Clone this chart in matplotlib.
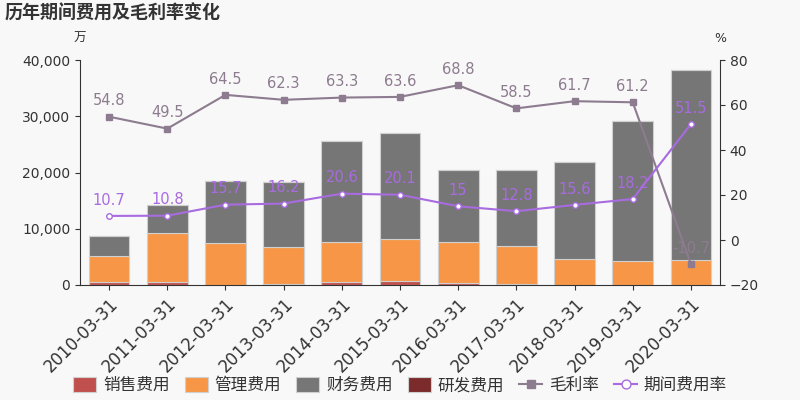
import numpy as np
import matplotlib.pyplot as plt
from matplotlib.ticker import FuncFormatter

plt.rcParams['font.family'] = ['DejaVu Sans', 'Noto Sans CJK SC']

# données
years = ['2010-03-31', '2011-03-31', '2012-03-31', '2013-03-31', '2014-03-31', '2015-03-31',
         '2016-03-31', '2017-03-31', '2018-03-31', '2019-03-31', '2020-03-31']
sales = [500, 600, 0, 100, 500, 700, 400, 200, 0, 0, 0]
admin = [4700, 8600, 7500, 6600, 7100, 7400, 7300, 6800, 4600, 4300, 4400]
finance = [3600, 5000, 11000, 11600, 18000, 18900, 12700, 13400, 17300, 24900, 33800]
rnd = [0, 0, 0, 0, 0, 0, 0, 0, 0, 0, 0]
gross_margin = [54.8, 49.5, 64.5, 62.3, 63.3, 63.6, 68.8, 58.5, 61.7, 61.2, -10.7]
period_rate = [10.7, 10.8, 15.7, 16.2, 20.6, 20.1, 15, 12.8, 15.6, 18.2, 51.5]

bg = '#f8f8f8'
fig = plt.figure(figsize=(8, 4), dpi=100, facecolor=bg)
ax = fig.add_axes([0.1, 0.2875, 0.8, 0.5625])
ax.set_facecolor(bg)
x = np.arange(len(years))
w = 0.7

bottom = np.zeros(len(years))
bars = []
for vals, col, name in [(sales, '#c0504d', '销售费用'), (admin, '#f79646', '管理费用'),
                        (finance, '#767676', '财务费用'), (rnd, '#7b2b2b', '研发费用')]:
    b = ax.bar(x, vals, w, bottom=bottom, color=col, edgecolor='#d0d0d0', linewidth=0.8,
               label=name, zorder=2)
    bars.append(b)
    bottom += np.array(vals)

ax.set_ylim(0, 40000)
ax.set_yticks([0, 10000, 20000, 30000, 40000])
ax.yaxis.set_major_formatter(FuncFormatter(lambda v, p: '{:,.0f}'.format(v)))
ax.set_xlim(-0.5, len(years) - 0.5)
ax.set_xticks(x)
ax.set_xticklabels(years, rotation=45, ha='right', rotation_mode='anchor', fontsize=12, color='#333333')
ax.tick_params(axis='y', labelsize=10, colors='#333333')
ax.tick_params(axis='x', colors='#333333')
for s in ['top', 'right']:
    ax.spines[s].set_visible(False)
ax.spines['left'].set_color('#333333')
ax.spines['bottom'].set_color('#333333')

ax2 = ax.twinx()
ax2.set_ylim(-20, 80)
ax2.set_yticks([-20, 0, 20, 40, 60, 80])
ax2.tick_params(axis='y', labelsize=10, colors='#333333')
for s in ['top', 'left', 'bottom']:
    ax2.spines[s].set_visible(False)
ax2.spines['right'].set_color('#333333')

gm_col = '#8d7b8f'
pr_col = '#a86be0'
l1, = ax2.plot(x, gross_margin, color=gm_col, marker='s', markersize=4, linewidth=1.5,
               label='毛利率', zorder=3)
l2, = ax2.plot(x, period_rate, color=pr_col, marker='o', markersize=4, markerfacecolor='white',
               markeredgecolor=pr_col, linewidth=1.5, label='期间费用率', zorder=3)
for i in range(len(years)):
    ax2.annotate(str(gross_margin[i]), (x[i], gross_margin[i]), xytext=(0, 6),
                 textcoords='offset points', ha='center', va='bottom', fontsize=10.5, color=gm_col)
    ax2.annotate('{:g}'.format(period_rate[i]), (x[i], period_rate[i]), xytext=(0, 6),
                 textcoords='offset points', ha='center', va='bottom', fontsize=10.5, color=pr_col)

fig.text(0.006, 0.965, '历年期间费用及毛利率变化', fontsize=13, fontweight='bold', color='#333333', va='center')
fig.text(0.1, 0.905, '万', fontsize=9, color='#333333', ha='center', va='center')
fig.text(0.9, 0.905, '%', fontsize=9, color='#333333', ha='center', va='center')

handles = bars + [l1, l2]
leg = fig.legend(handles=handles, labels=[h.get_label() for h in handles], loc='center',
                 bbox_to_anchor=(0.5, 0.037), ncol=6, frameon=False, fontsize=12,
                 handlelength=1.4, handleheight=1.0, handletextpad=0.4, columnspacing=0.9,
                 labelcolor='#333333', markerscale=1.6)

fig.savefig('out.png', dpi=100, facecolor=bg)
